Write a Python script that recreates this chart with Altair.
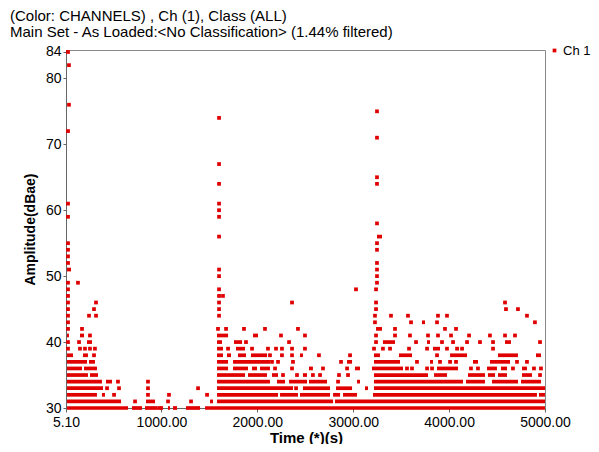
import altair as alt
import pandas as pd

TITLE_1 = "(Color: CHANNELS) , Ch (1), Class (ALL)"
TITLE_2 = "Main Set - As Loaded:<No Classification> (1.44% filtered)"
SERIES = "Ch 1"
RED = "#e00000"
X_TICKS = [5.1, 1000, 2000, 3000, 4000, 5000]
Y_TICKS = [30, 40, 50, 60, 70, 80, 84]

# dense runs of consecutive hits: amplitude (dBae) -> [(start s, end s), ...]
runs = {
    30: [(15, 652), (693, 798), (829, 954), (985, 1017), (1069, 1090), (1121, 1163), (1256, 1403), (1455, 5000)],
    31: [(15, 579), (839, 933), (1507, 1538), (1580, 2790), (2810, 5000)],
    32: [(15, 328), (380, 412), (1580, 2216), (2237, 2424), (2445, 2758), (2790, 2863), (2894, 3040), (3206, 4916), (4937, 5000)],
    33: [(15, 391), (1580, 2372), (2476, 2758), (2821, 2988), (3123, 3154), (3217, 5000)],
    34: [(15, 380), (422, 485), (1580, 2132), (2205, 2289), (2331, 2518), (2539, 2727), (3040, 3071), (3217, 4145), (4176, 4374), (4447, 4718), (4750, 4958)],
    35: [(15, 234), (255, 339), (1580, 1872), (1903, 2101), (2153, 2216), (2476, 2518), (3217, 3780), (3843, 3978), (4197, 4374), (4405, 4479), (4510, 4604), (4760, 4864)],
    36: [(15, 172), (193, 328), (1580, 1695), (1747, 1903), (1945, 1997), (2028, 2132), (2539, 2580), (3019, 3071), (3196, 3519), (3874, 4093), (4395, 4499), (4541, 4604), (4760, 4812)],
    37: [(15, 224), (245, 307), (1580, 1695), (1747, 2132), (2936, 2988), (3217, 3488), (3801, 3832), (4249, 4301), (4426, 4635)],
    38: [(15, 78), (182, 234), (1580, 1642), (1684, 1726), (1799, 1882), (1934, 2101), (2445, 2476), (3217, 3279), (3477, 3613), (4010, 4187), (4510, 4718), (4906, 4958)],
    39: [(1580, 1642), (1778, 1872), (3832, 3905)],
    40: [(224, 276), (1580, 1632), (1757, 1841), (3310, 3436), (3770, 3801), (4583, 4645)],
    41: [(15, 36), (151, 193), (1580, 1695), (1955, 2007)],
    42: [(3238, 3300)],
    43: [(3717, 3749)],
    51: [(15, 57)],
    56: [(3248, 3300)],
}

# isolated hits: amplitude (dBae) -> [time s, ...]
points = {
    30: [975],
    31: [725, 1069, 1309],
    32: [506, 860, 1079, 1476],
    33: [433, 558, 860, 1382, 2404],
    34: [547, 860, 2842],
    35: [2268, 2414, 2580, 2654, 2852, 2946, 4948],
    36: [2185, 2362, 2685, 2936, 3561, 3613, 3770, 3822, 4228, 4301, 4666, 4885, 4958],
    37: [2153, 2216, 2372, 2873, 3665, 3905, 4010, 4072, 4708, 4812],
    38: [297, 2132, 2257, 2362, 2643, 2967, 3874],
    39: [26, 151, 203, 255, 307, 1695, 1945, 2111, 2195, 2257, 2362, 2497, 3217, 3310, 3384, 3582, 3770, 3978, 4083, 4135, 4458],
    40: [26, 141, 1882, 2331, 3238, 3655, 3926, 4041, 4187, 4322, 4458, 4948],
    41: [255, 2247, 2497, 3238, 3436, 3592, 3780, 3884, 4020, 4208, 4426, 4583, 4687],
    42: [26, 172, 1590, 1674, 1861, 2080, 2424, 3436, 3957, 4072],
    43: [26, 3227, 3603, 3874, 4895],
    44: [26, 245, 318, 1601, 3227, 3394, 3571, 3884, 3978, 4812],
    45: [26, 297, 1601, 3238, 4593, 4718],
    46: [26, 318, 1601, 2362, 3238, 4583],
    47: [26, 1601, 1642],
    48: [26, 1601, 3029, 3238],
    49: [26, 130, 3248],
    50: [1601, 3248],
    51: [1601, 3248],
    52: [26, 3248],
    53: [26],
    54: [26, 3248],
    55: [26, 3248],
    56: [1601],
    58: [3248],
    59: [26, 1601],
    60: [1601],
    61: [26, 1601],
    64: [1601, 3248],
    65: [3248],
    67: [1601],
    71: [3248],
    72: [26],
    74: [1601],
    75: [3248],
    76: [36],
    82: [36],
    84: [26],
}

run_df = pd.DataFrame(
    [{"level": lv, "start": s, "end": e} for lv, segs in runs.items() for s, e in segs]
)
pt_df = pd.DataFrame(
    [{"level": lv, "time": t, "series": SERIES} for lv, ts in points.items() for t in ts]
)

FONT = "Liberation Sans"
x_scale = alt.Scale(domain=[5.1, 5000], nice=False, zero=False)
y_scale = alt.Scale(domain=[30, 84.3], nice=False, zero=False)

x_axis = alt.Axis(
    title="Time (*)(s)", values=X_TICKS, format=".2f", labelFlush=False,
    grid=False, tickSize=4, labelPadding=3, labelFontSize=14, labelFont=FONT,
    labelColor="black", domainColor="#666666", tickColor="#666666",
    titleFont=FONT, titleFontSize=15, titleFontWeight="bold", titleColor="black",
    titleX=240, titleY=34, titleBaseline="alphabetic", labelOverlap=False,
)
y_axis = alt.Axis(
    title="Amplitude(dBae)", values=Y_TICKS, grid=False, tickSize=3, labelPadding=2,
    labelFontSize=14, labelFont=FONT, labelColor="black", domainColor="#666666",
    tickColor="#666666", titleFont=FONT, titleFontSize=14, titleFontWeight="bold",
    titleColor="black", titleX=-36, titleY=179, titleBaseline="middle",
    labelOverlap=False,
)

rules = alt.Chart(run_df).mark_rule(strokeWidth=3.7, color=RED, strokeCap="butt").encode(
    x=alt.X("start:Q", scale=x_scale, axis=x_axis),
    x2="end:Q",
    y=alt.Y("level:Q", scale=y_scale, axis=y_axis),
)

pts = alt.Chart(pt_df).mark_square(size=14, opacity=1, filled=True).encode(
    x=alt.X("time:Q", scale=x_scale, axis=x_axis),
    y=alt.Y("level:Q", scale=y_scale, axis=y_axis),
    color=alt.Color(
        "series:N",
        scale=alt.Scale(domain=[SERIES], range=[RED]),
        legend=alt.Legend(
            title=None, orient="none", legendX=482, legendY=-6, padding=0,
            symbolType="square", symbolSize=14, labelFontSize=13, labelFont=FONT,
            labelColor="black", symbolStrokeWidth=0, symbolOpacity=1, labelOffset=2,
            labelLimit=60,
        ),
    ),
)

chart = alt.layer(rules, pts).properties(
    width=479,
    height=358,
    autosize="none",
    padding={"left": 58, "top": 42, "right": 46, "bottom": 36},
    title=alt.Title(
        text=[TITLE_1, TITLE_2], anchor="start", frame="group", dx=-56, offset=4,
        fontSize=15, font=FONT, fontWeight="normal", color="black", lineHeight=16,
    ),
).configure_view(stroke="#888888", strokeWidth=1)

chart.save("out.html", embed_options={"renderer": "svg", "actions": False})
